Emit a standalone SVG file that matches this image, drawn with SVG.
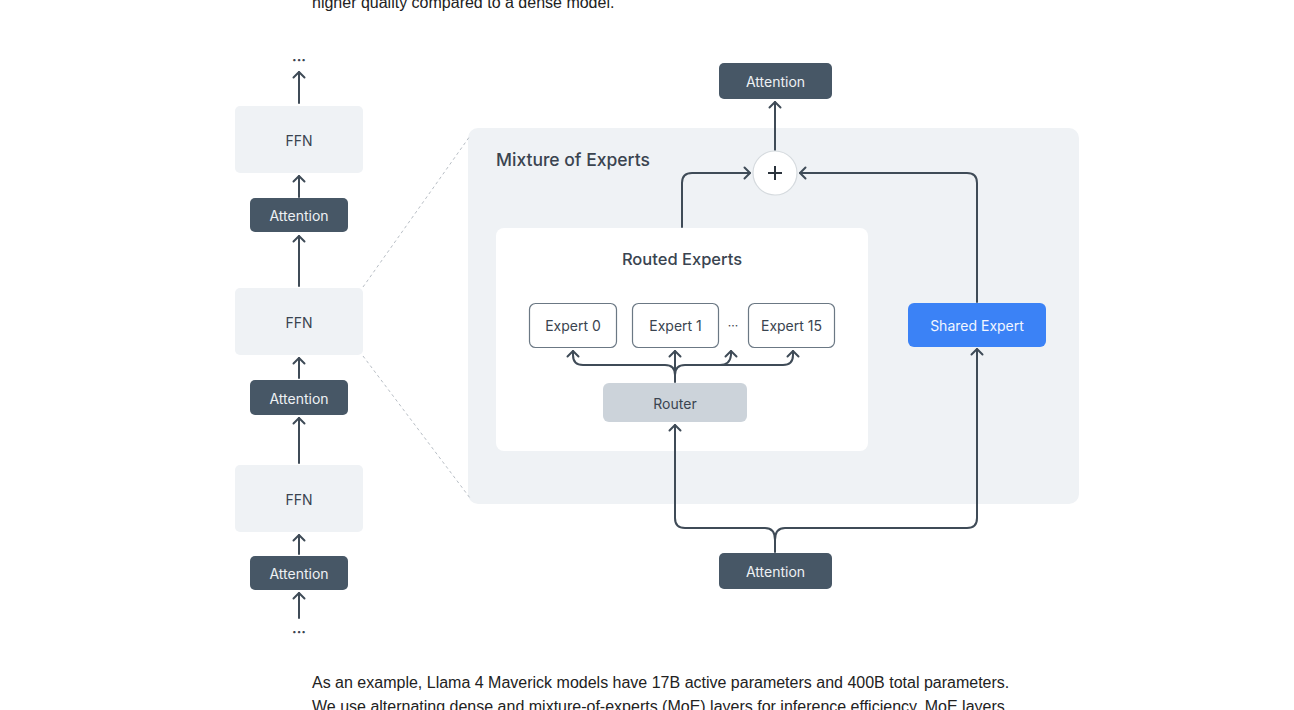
<svg xmlns="http://www.w3.org/2000/svg" width="1294" height="710" viewBox="0 0 1294 710">
<style>
.page{font-family:"Liberation Sans",Arial,sans-serif;font-size:16px;fill:#222}
.lbl{font-family:Inter,"Noto Sans",sans-serif;font-size:14px;text-anchor:middle;dominant-baseline:central}
.dark{fill:#475766}
.light{fill:#eff2f5}
.wt{fill:#eef1f4}
.tx{fill:#3a4450}
.conn{fill:none;stroke:#3f4b57;stroke-width:2;stroke-linejoin:round;stroke-linecap:round}
.dot{fill:none;stroke:#b8bec5;stroke-width:1;stroke-dasharray:3 3}
.expert{fill:#fff;stroke:#6b7884;stroke-width:1.2}
</style>
<defs>
<marker id="ah" viewBox="-8 -8 16 16" refX="0" refY="0" markerWidth="16" markerHeight="16" markerUnits="userSpaceOnUse" orient="auto">
<path d="M-5.5,-5.5 L0,0 L-5.5,5.5" fill="none" stroke="#3f4b57" stroke-width="2" stroke-linecap="round" stroke-linejoin="round"/>
</marker>
</defs>
<rect width="1294" height="710" fill="#fff"/>
<text class="page" x="312" y="8">higher quality compared to a dense model.</text>
<text class="page" x="312" y="688">As an example, Llama 4 Maverick models have 17B active parameters and 400B total parameters.</text>
<text class="page" x="312" y="712">We use alternating dense and mixture-of-experts (MoE) layers for inference efficiency. MoE layers</text>

<g id="moe">
<rect x="468" y="128" width="611" height="376" rx="10" class="light"/>
<text x="496" y="166" font-family="Inter,'Noto Sans',sans-serif" font-size="17.5" font-weight="500" class="tx">Mixture of Experts</text>
</g>
<g id="zoomlines">
<line class="dot" x1="363" y1="287" x2="470" y2="136"/>
<line class="dot" x1="363" y1="356" x2="470" y2="498"/>
</g>
<g id="routed">
<rect x="496" y="228" width="372" height="223" rx="8" fill="#fff"/>
<text x="682" y="259" class="lbl tx" style="font-size:16.5px;font-weight:500">Routed Experts</text>
</g>

<g id="connectors">
<line class="conn" x1="299" y1="103" x2="299" y2="72" marker-end="url(#ah)"/>
<line class="conn" x1="299" y1="197" x2="299" y2="176" marker-end="url(#ah)"/>
<line class="conn" x1="299" y1="286" x2="299" y2="236" marker-end="url(#ah)"/>
<line class="conn" x1="299" y1="378" x2="299" y2="358" marker-end="url(#ah)"/>
<line class="conn" x1="299" y1="463" x2="299" y2="418" marker-end="url(#ah)"/>
<line class="conn" x1="299" y1="554" x2="299" y2="535" marker-end="url(#ah)"/>
<line class="conn" x1="299" y1="618" x2="299" y2="593" marker-end="url(#ah)"/>
<path class="conn" d="M775,552 L775,540 Q775,528 765,528 L685,528 Q675,528 675,518 L675,425" marker-end="url(#ah)"/>
<path class="conn" d="M775,540 Q775,528 785,528 L967,528 Q977,528 977,518 L977,349" marker-end="url(#ah)"/>
<line class="conn" x1="675" y1="382" x2="675" y2="351" marker-end="url(#ah)"/>
<path class="conn" d="M675,375 Q675,365 665,365 L583,365 Q573,365 573,355 L573,351" marker-end="url(#ah)"/>
<path class="conn" d="M675,375 Q675,365 685,365 L720,365 Q730,365 731,355 L731,351" marker-end="url(#ah)"/>
<path class="conn" d="M720,365 L783,365 Q793,365 793,355 L793,351" marker-end="url(#ah)"/>
<path class="conn" d="M682,227 L682,183 Q682,173 692,173 L750,173" marker-end="url(#ah)"/>
<path class="conn" d="M977,302 L977,183 Q977,173 967,173 L800,173" marker-end="url(#ah)"/>
<line class="conn" x1="775" y1="150" x2="775" y2="102" marker-end="url(#ah)"/>
</g>

<g id="dots-top"><text x="299" y="59" class="lbl tx" style="font-weight:700">···</text></g>
<g id="dots-bottom"><text x="299" y="631" class="lbl tx" style="font-weight:700">···</text></g>

<g id="ffn1"><rect x="235" y="106" width="128" height="67" rx="5" class="light"/><text x="299" y="140" class="lbl tx">FFN</text></g>
<g id="att1"><rect x="250" y="198" width="98" height="34" rx="5" class="dark"/><text x="299" y="215.5" class="lbl wt">Attention</text></g>
<g id="ffn2"><rect x="235" y="288" width="128" height="67" rx="5" class="light"/><text x="299" y="322" class="lbl tx">FFN</text></g>
<g id="att2"><rect x="250" y="380" width="98" height="35" rx="5" class="dark"/><text x="299" y="398" class="lbl wt">Attention</text></g>
<g id="ffn3"><rect x="235" y="465" width="128" height="67" rx="5" class="light"/><text x="299" y="499" class="lbl tx">FFN</text></g>
<g id="att3"><rect x="250" y="556" width="98" height="34" rx="5" class="dark"/><text x="299" y="573.5" class="lbl wt">Attention</text></g>

<g id="att-top"><rect x="719" y="63" width="113" height="36" rx="5" class="dark"/><text x="775.5" y="81.5" class="lbl wt">Attention</text></g>
<g id="att-bottom"><rect x="719" y="553" width="113" height="36" rx="5" class="dark"/><text x="775.5" y="571.5" class="lbl wt">Attention</text></g>
<g id="plus"><circle cx="775" cy="173" r="22" fill="#fff" stroke="#d5dade" stroke-width="1.2"/><path d="M768,173 H782 M775,166 V180" stroke="#2b333c" stroke-width="2"/></g>
<g id="expert0"><rect x="529.5" y="303.5" width="87" height="44" rx="6" class="expert"/><text x="573" y="325.5" class="lbl tx">Expert 0</text></g>
<g id="expert1"><rect x="632.5" y="303.5" width="86" height="44" rx="6" class="expert"/><text x="675.5" y="325.5" class="lbl tx">Expert 1</text></g>
<g id="expert-dots"><text x="733" y="325" class="lbl tx" style="font-size:12px">···</text></g>
<g id="expert15"><rect x="748.5" y="303.5" width="86" height="44" rx="6" class="expert"/><text x="791.5" y="325.5" class="lbl tx">Expert 15</text></g>
<g id="router"><rect x="603" y="383" width="144" height="39" rx="6" fill="#ccd3da"/><text x="675" y="403" class="lbl tx">Router</text></g>
<g id="shared"><rect x="908" y="303" width="138" height="44" rx="6" fill="#3b82f6"/><text x="977" y="325.5" class="lbl" fill="#f2f6ff">Shared Expert</text></g>
</svg>
